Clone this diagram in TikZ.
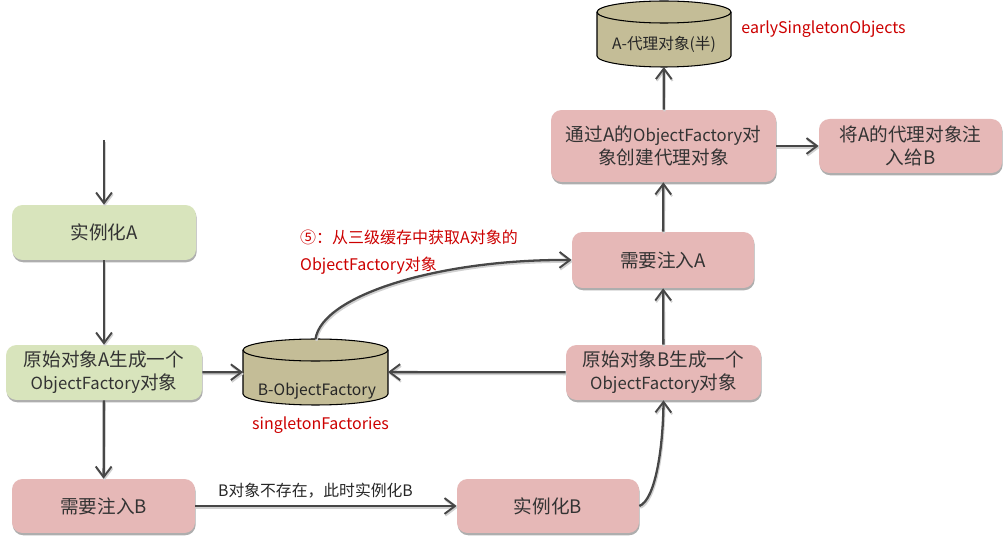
\documentclass[tikz,border=0pt]{standalone}
\usepackage{fontspec}
\setmainfont{Noto Sans CJK SC}
\usepackage{xcolor}
\usetikzlibrary{arrows.meta}
\usetikzlibrary{shadows}
\definecolor{mygreen}{RGB}{216,228,188}
\definecolor{mypink}{RGB}{230,184,183}
\definecolor{mytan}{RGB}{196,189,151}
\definecolor{myred}{RGB}{204,0,0}
\definecolor{myink}{RGB}{51,51,51}
\newcommand{\objf}{{\fontsize{9.5}{13}\selectfont ObjectFactory}}
\newcommand{\drawstore}[2]{
\draw[storeline] (#1.north west) ++(0,-0.22cm) arc[start angle=180,end angle=0,x radius=#2,y radius=0.22cm] -- ++(0,-0.88cm) arc[start angle=0,end angle=-180,x radius=#2,y radius=0.22cm] -- cycle;
\draw[storeline,fill=none] (#1.north west) ++(0,-0.22cm) arc[start angle=180,end angle=360,x radius=#2,y radius=0.22cm];
}
\tikzset{
  stepbox/.style={rectangle,rounded corners=6pt,align=center,text=myink,inner sep=0pt,
    font=\fontsize{10.6}{13}\selectfont,
    drop shadow={shadow xshift=0.4pt,shadow yshift=-1.3pt,opacity=0.45,fill=black!70}},
  greenbox/.style={stepbox,fill=mygreen},
  pinkbox/.style={stepbox,fill=mypink},
  store/.style={rectangle,inner sep=0pt,outer sep=0pt},
  storeline/.style={draw=black,line width=0.6pt,fill=mytan},
  storetext/.style={text=black!85,font=\fontsize{8.9}{10}\selectfont},
  redtext/.style={text=myred,font=\fontsize{9.1}{15.7}\selectfont,align=left},
  flow/.style={-{Straight Barb[length=6pt,width=9pt,line width=1.1pt]},line width=1.3pt,color=black!72,
    preaction={draw=black!18,line width=1.3pt,transform canvas={xshift=0.5pt,yshift=-1pt}}}
}
\begin{document}
\begin{tikzpicture}[x=0.02cm,y=-0.02cm]
\useasboundingbox (0,0) rectangle (1008,543);

\node[greenbox,minimum width=3.68cm,minimum height=1.1cm] (newA) at (104,232.5) {实例化A};
\node[greenbox,minimum width=3.92cm,minimum height=1.1cm] (rawA) at (104,372.5) {原始对象A生成一个\\\objf 对象};
\node[pinkbox,minimum width=3.66cm,minimum height=1.08cm] (needB) at (103.5,506) {需要注入B};
\node[pinkbox,minimum width=3.64cm,minimum height=1.08cm] (newB) at (548,506) {实例化B};
\node[pinkbox,minimum width=3.9cm,minimum height=1.1cm] (rawB) at (663.5,372.5) {原始对象B生成一个\\\objf 对象};
\node[pinkbox,minimum width=3.64cm,minimum height=1.12cm] (needA) at (663,260) {需要注入A};
\node[pinkbox,minimum width=4.5cm,minimum height=1.44cm] (proxyA) at (663.5,146) {通过A的\objf 对\\象创建代理对象};
\node[pinkbox,minimum width=3.66cm,minimum height=1.08cm] (giveB) at (910.5,146) {将A的代理对象注\\入给B};

\node[store,minimum width=2.9cm,minimum height=1.32cm] (factoryB) at (315.5,372) {};
\drawstore{factoryB}{1.45cm}
\node[storetext] (factoryBtext) at (317,391) {B-ObjectFactory};
\node[store,minimum width=2.68cm,minimum height=1.32cm] (earlyA) at (664,34) {};
\drawstore{earlyA}{1.34cm}
\node[storetext] (earlyAtext) at (664,44) {A-代理对象(半)};

\node[redtext] (factoryName) at (320.5,425) {singletonFactories};
\node[redtext] (earlyName) at (823.5,29) {earlySingletonObjects};
\node[redtext,anchor=west] (fetchNote) at (294,252) {⑤：从三级缓存中获取A对象的\\ObjectFactory对象};
\node[text=black!85,font=\fontsize{9}{10}\selectfont] (missNote) at (315.5,491) {B对象不存在，此时实例化B};

\coordinate (start) at (104,140);

\draw[flow] (start) -- (newA);
\draw[flow] (newA) -- (rawA);
\draw[flow] (rawA) -- (needB);
\draw[flow] (rawA) -- (factoryB);
\draw[flow] (needB) -- (newB);
\draw[flow] (rawB) -- (factoryB);
\draw[flow] (rawB) -- (needA);
\draw[flow] (needA) -- (proxyA);
\draw[flow] (proxyA) -- (earlyA);
\draw[flow] (proxyA) -- (giveB);
\draw[flow] (factoryB.north) .. controls (322,295) and (440,259) .. (needA.west);
\draw[flow] (newB.east) .. controls (655,500) and (663,450) .. (rawB.south);
\end{tikzpicture}
\end{document}
